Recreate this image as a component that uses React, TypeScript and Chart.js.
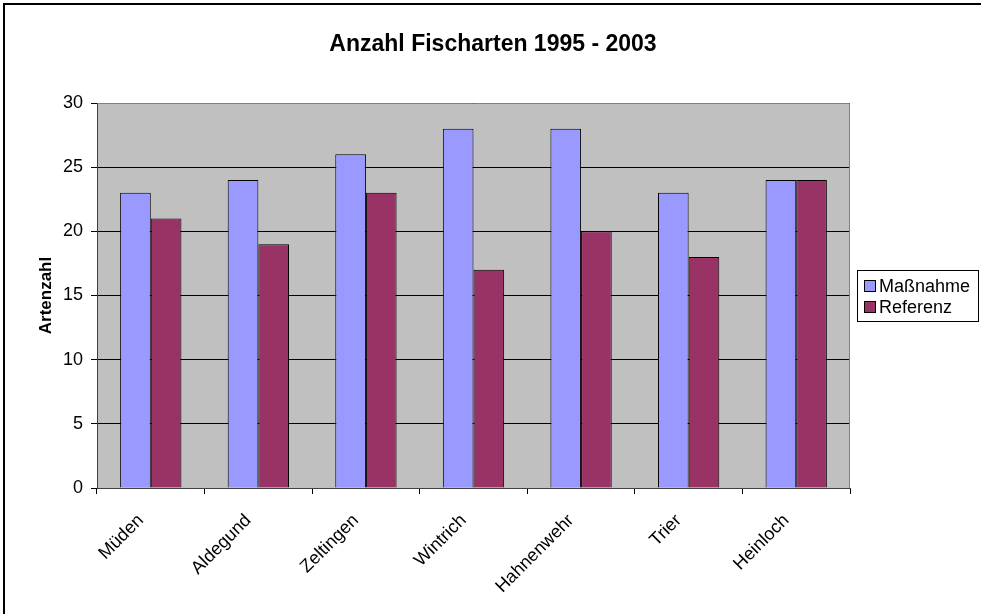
import React, { useEffect, useRef } from "react";
import { Chart, registerables } from "chart.js";

Chart.register(...registerables);

const TITLE = "Anzahl Fischarten 1995 - 2003";
const Y_TITLE = "Artenzahl";
const CATEGORIES = ["Müden", "Aldegund", "Zeltingen", "Wintrich", "Hahnenwehr", "Trier", "Heinloch"];
const SERIES_NAMES = ["Maßnahme", "Referenz"];
const MASSNAHME = [23, 24, 26, 28, 28, 23, 24];
const REFERENZ = [21, 19, 23, 17, 20, 18, 24];
const Y_MIN = 0;
const Y_MAX = 30;
const Y_STEP = 5;
const COLORS = ["#9999FF", "#993366"];

const FONT = "'Liberation Sans', Arial, sans-serif";

const decorPlugin = {
  id: "decor",
  beforeDraw(chart: any) {
    const { ctx, chartArea: a, width, height } = chart;
    ctx.save();
    ctx.fillStyle = "#ffffff";
    ctx.fillRect(0, 0, width, height);
    ctx.fillStyle = "#C0C0C0";
    ctx.fillRect(a.left, a.top, a.right - a.left, a.bottom - a.top);
    ctx.strokeStyle = "#000";
    ctx.lineWidth = 2;
    ctx.beginPath();
    ctx.moveTo(4, height);
    ctx.lineTo(4, 4);
    ctx.lineTo(width, 4);
    ctx.stroke();
    ctx.fillStyle = "#000";
    ctx.font = `bold 23px ${FONT}`;
    ctx.textAlign = "center";
    ctx.textBaseline = "middle";
    ctx.fillText(TITLE, 493, 45);
    ctx.restore();
  },
  afterDraw(chart: any) {
    const { ctx, chartArea: a } = chart;
    ctx.save();
    ctx.strokeStyle = "#808080";
    ctx.lineWidth = 1;
    ctx.beginPath();
    ctx.moveTo(Math.round(a.left) + 0.5, Math.round(a.top) + 0.5);
    ctx.lineTo(Math.round(a.right) - 0.5, Math.round(a.top) + 0.5);
    ctx.lineTo(Math.round(a.right) - 0.5, Math.round(a.bottom));
    ctx.stroke();
    const bx = 857.5, by = 270.5, bw = 121, bh = 51;
    ctx.fillStyle = "#fff";
    ctx.fillRect(bx, by, bw, bh);
    ctx.strokeStyle = "#000";
    ctx.strokeRect(bx, by, bw, bh);
    ctx.font = `18px ${FONT}`;
    ctx.textAlign = "left";
    ctx.textBaseline = "middle";
    chart.data.datasets.forEach((ds: any, i: number) => {
      const cy = 286 + i * 21;
      ctx.fillStyle = ds.backgroundColor;
      ctx.fillRect(864.5, cy - 5.5, 11, 11);
      ctx.strokeStyle = "#000";
      ctx.strokeRect(864.5, cy - 5.5, 11, 11);
      ctx.fillStyle = "#000";
      ctx.fillText(ds.label, 879, cy + 1);
    });
    ctx.restore();
  },
};

export default function App() {
  const ref = useRef<HTMLCanvasElement>(null);
  useEffect(() => {
    document.body.style.margin = "0";
    const chart = new Chart(ref.current!, {
      type: "bar",
      data: {
        labels: CATEGORIES,
        datasets: [
          {
            label: SERIES_NAMES[0],
            data: MASSNAHME,
            backgroundColor: COLORS[0],
            borderColor: "#000",
            borderWidth: 1,
            categoryPercentage: 0.57,
            barPercentage: 1,
          },
          {
            label: SERIES_NAMES[1],
            data: REFERENZ,
            backgroundColor: COLORS[1],
            borderColor: "#000",
            borderWidth: 1,
            categoryPercentage: 0.57,
            barPercentage: 1,
          },
        ],
      },
      options: {
        responsive: false,
        animation: false,
        devicePixelRatio: 1,
        layout: { padding: { top: 103, right: 131, bottom: 0, left: 0 } },
        plugins: {
          legend: { display: false },
          title: { display: false },
          tooltip: { enabled: false },
        },
        scales: {
          x: {
            grid: {
              display: true,
              drawOnChartArea: false,
              drawTicks: true,
              tickLength: 6,
              color: "#000",
              offset: true,
            },
            border: { display: true, color: "#404040" },
            ticks: {
              color: "#000",
              font: { family: FONT, size: 18 },
              minRotation: 45,
              maxRotation: 45,
              padding: 16,
              labelOffset: -10,
            },
            afterFit(scale: any) {
              scale.height = 126;
            },
          },
          y: {
            min: Y_MIN,
            max: Y_MAX,
            ticks: {
              stepSize: Y_STEP,
              color: "#000",
              font: { family: FONT, size: 18 },
              padding: 8,
            },
            grid: { color: "#000", tickLength: 6, drawTicks: true },
            border: { display: true, color: "#404040" },
            title: {
              display: true,
              text: Y_TITLE,
              color: "#000",
              font: { family: FONT, size: 17, weight: "bold" },
              padding: { top: 36, bottom: 0 },
            },
            afterFit(scale: any) {
              scale.width = 97;
            },
          },
        },
      },
      plugins: [decorPlugin],
    });
    return () => chart.destroy();
  }, []);
  return (
    <div style={{ position: "absolute", left: 0, top: 0, width: 981, height: 614 }}>
      <canvas ref={ref} width={981} height={614} />
    </div>
  );
}
